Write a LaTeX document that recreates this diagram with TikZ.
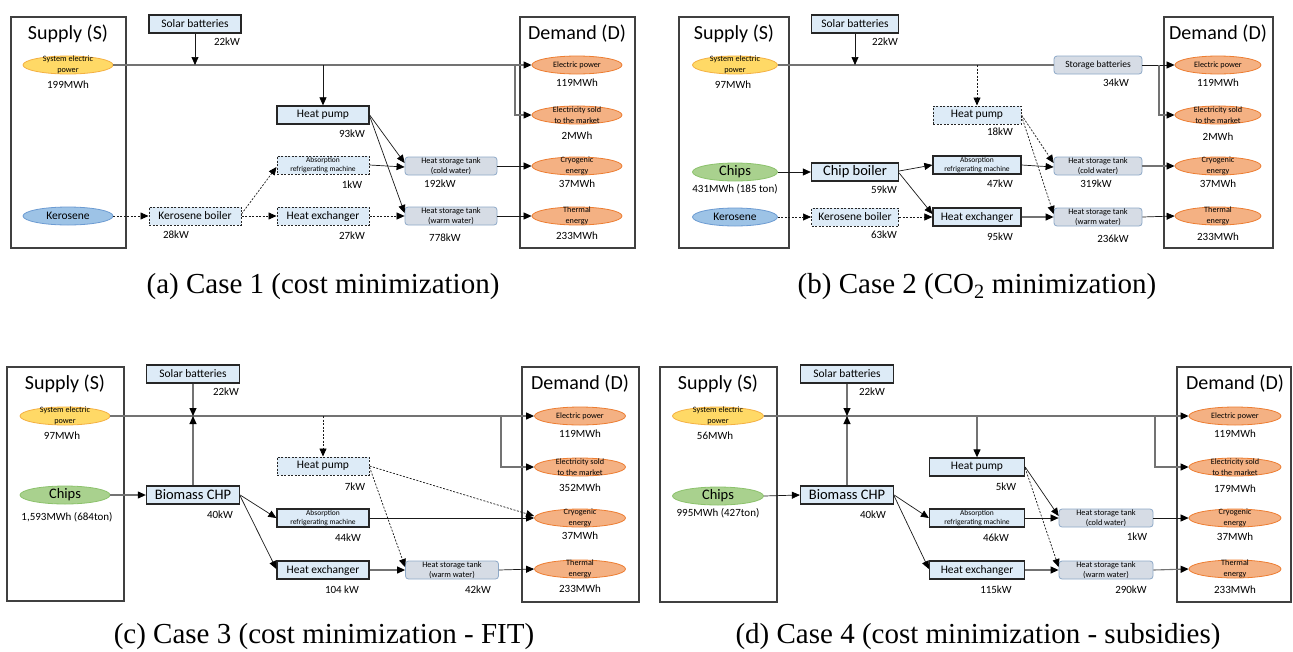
\documentclass[tikz,border=0pt]{standalone}
\usepackage{fontspec}
\setmainfont{Carlito}
\newfontfamily\capfont{Liberation Serif}
\usetikzlibrary{shapes.geometric,arrows.meta}
\definecolor{boxblue}{HTML}{DDEBF7}
\definecolor{tankfill}{HTML}{D6DCE5}
\definecolor{tankedge}{HTML}{8EA9C8}
\definecolor{supfill}{HTML}{FFD966}
\definecolor{supedge}{HTML}{F4B042}
\definecolor{kerfill}{HTML}{9DC3E6}
\definecolor{keredge}{HTML}{6C9BD2}
\definecolor{chipfill}{HTML}{A9D18E}
\definecolor{chipedge}{HTML}{8CC26C}
\definecolor{demfill}{HTML}{F4B183}
\definecolor{demedge}{HTML}{ED7D31}
\newcommand\fsz[2]{\fontsize{#1}{#2}\selectfont}
\begin{document}
\begin{tikzpicture}[x=1pt,y=-1pt,
 frame/.style={draw=black!75, line width=1.3pt, inner sep=0, minimum height=231pt},
 ttl/.style={font=\fsz{20}{24}, inner sep=0},
 val/.style={font=\fsz{11}{13}, inner sep=0},
 unit/.style={rectangle, draw=black!85, line width=1.3pt, fill=boxblue, inner sep=0, minimum height=18pt, font=\fsz{11.5}{13}, align=center},
 dunit/.style={unit, line width=1pt, dash pattern=on 2pt off 1.5pt},
 big/.style={font=\fsz{14.5}{16}},
 small/.style={font=\fsz{7.5}{9}},
 tank/.style={rectangle, rounded corners=3pt, draw=tankedge, line width=0.8pt, fill=tankfill, inner sep=0, minimum height=18pt, font=\fsz{8.3}{10}, align=center},
 ell/.style={ellipse, inner sep=0, minimum height=18pt, line width=0.8pt},
 etxt/.style={font=\fsz{8.2}{10.5}, align=center, inner sep=0},
 sup/.style={ell, fill=supfill, draw=supedge},
 ker/.style={ell, fill=kerfill, draw=keredge, font=\fsz{11.5}{13}},
 chip/.style={ell, fill=chipfill, draw=chipedge, font=\fsz{14.5}{16}},
 dem/.style={ell, fill=demfill, draw=demedge},
 conn/.style={draw=black!90, line width=0.7pt, -{Triangle[length=8pt,width=7pt,color=black]}},
 dconn/.style={conn, dash pattern=on 2pt off 1.5pt},
 mline/.style={draw=black!55, line width=1.1pt},
 mconn/.style={mline, -{Triangle[length=8pt,width=7pt,color=black]}},
 captxt/.style={font=\capfont\fsz{29}{33}, inner sep=0}
]
\useasboundingbox (0,0) rectangle (1293,651);
\fill[white] (0,0) rectangle (1293,651);

% ================= (a)
\node[frame, minimum width=115pt] (supA) at (68.5,132.5) {};
\node[frame, minimum width=115pt] (demA) at (577.5,132.5) {};
\node[ttl] (tsA) at (68,34) {Supply (S)};
\node[ttl] (tdA) at (577,34) {Demand (D)};
\node[sup, minimum width=90pt, label={[etxt]center:System electric\\power}] (sepA) at (68,65) {};
\node[val] (vsepA) at (68,85) {199MWh};
\node[ker, minimum width=90pt] (kerA) at (68,216) {Kerosene};
\node[unit, minimum width=92pt] (solA) at (195,24) {Solar batteries};
\node[val] (vsolA) at (227,42) {22kW};
\node[unit, minimum width=92pt] (hpA) at (323,115) {Heat pump};
\node[val] (vhpA) at (352,134) {93kW};
\node[dunit, small, minimum width=92pt] (absA) at (323,165) {Absorption\\refrigerating machine};
\node[val] (vabsA) at (352,185) {1kW};
\node[dunit, minimum width=92pt] (hxA) at (323,216) {Heat exchanger};
\node[val] (vhxA) at (352,236) {27kW};
\node[dunit, minimum width=92pt] (kbA) at (195,216) {Kerosene boiler};
\node[val] (vkbA) at (176,235) {28kW};
\node[tank, minimum width=92pt] (ctA) at (451,166) {Heat storage tank\\(cold water)};
\node[val] (vctA) at (440,184) {192kW};
\node[tank, minimum width=92pt] (wtA) at (451,216) {Heat storage tank\\(warm water)};
\node[val] (vwtA) at (445,238) {778kW};
\node[dem, minimum width=90pt, label={[etxt]center:Electric power}] (epA) at (577,65) {};
\node[dem, minimum width=90pt, label={[etxt]center:Electricity sold\\to the market}] (esA) at (577,115) {};
\node[dem, minimum width=90pt, label={[etxt]center:Cryogenic\\energy}] (crA) at (577,166) {};
\node[dem, minimum width=90pt, label={[etxt]center:Thermal\\energy}] (thA) at (577,216) {};
\node[val] (vepA) at (577,83) {119MWh};
\node[val] (vesA) at (577,136) {2MWh};
\node[val] (vcrA) at (577,184) {37MWh};
\node[val] (vthA) at (577,236) {233MWh};
\coordinate (brA) at (515,65);
\coordinate (hpdA) at (323,65);
\draw[mconn] (sepA.east) -- (epA.west);
\draw[mconn] (brA) |- (esA.west);
\draw[conn] (solA.south) -- (solA.south |- sepA.east);
\draw[conn] (hpdA) -- (hpA.north);
\draw[dconn] (kerA.east) -- (kbA.west);
\draw[dconn] (kbA.east) -- (hxA.west);
\draw[dconn] ([yshift=2pt]kbA.east) -- ([yshift=-2pt]absA.west);
\draw[conn] (hpA.east) -- ([yshift=3pt]ctA.west);
\draw[conn] ([yshift=-1pt]hpA.east) -- ([yshift=3pt]wtA.west);
\draw[conn] (absA.east) -- ([yshift=-1pt]ctA.west);
\draw[dconn] (hxA.east) -- (wtA.west);
\draw[conn] (ctA.east) -- (crA.west);
\draw[conn] (wtA.east) -- (thA.west);
\node[captxt] (capA) at (323,287) {(a) Case 1 (cost minimization)};

% ================= (b)
\node[frame, minimum width=110pt] (supB) at (734,132.5) {};
\node[frame, minimum width=109pt] (demB) at (1218.5,132.5) {};
\node[ttl] (tsB) at (734,34) {Supply (S)};
\node[ttl] (tdB) at (1218,34) {Demand (D)};
\node[sup, minimum width=85pt, label={[etxt]center:System electric\\power}] (sepB) at (735,65) {};
\node[val] (vsepB) at (733,85) {97MWh};
\node[chip, minimum width=85pt] (chB) at (735,172) {Chips};
\node[val] (vchB) at (735,189) {431MWh (185 ton)};
\node[ker, minimum width=85pt] (kerB) at (735,217) {Kerosene};
\node[unit, minimum width=87pt] (solB) at (855,24) {Solar batteries};
\node[val] (vsolB) at (885,42) {22kW};
\node[tank, font=\fsz{9.5}{11}, minimum width=88pt] (sbB) at (1098,65) {Storage batteries};
\node[val] (vsbB) at (1116,83) {34kW};
\node[dunit, minimum width=88pt] (hpB) at (977,115) {Heat pump};
\node[val] (vhpB) at (1000,132) {18kW};
\node[unit, big, minimum width=87pt] (cbB) at (855,172) {Chip boiler};
\node[val] (vcbB) at (884,190) {59kW};
\node[dunit, minimum width=87pt] (kbB) at (855,217) {Kerosene boiler};
\node[val] (vkbB) at (884,235) {63kW};
\node[unit, small, minimum width=88pt] (absB) at (977,165) {Absorption\\refrigerating machine};
\node[val] (vabsB) at (1000,184) {47kW};
\node[unit, minimum width=88pt] (hxB) at (977,217) {Heat exchanger};
\node[val] (vhxB) at (1000,237) {95kW};
\node[tank, minimum width=88pt] (ctB) at (1098,166) {Heat storage tank\\(cold water)};
\node[val] (vctB) at (1096,184) {319kW};
\node[tank, minimum width=88pt] (wtB) at (1098,217) {Heat storage tank\\(warm water)};
\node[val] (vwtB) at (1113,239) {236kW};
\node[dem, minimum width=86pt, label={[etxt]center:Electric power}] (epB) at (1218,65) {};
\node[dem, minimum width=86pt, label={[etxt]center:Electricity sold\\to the market}] (esB) at (1218,115) {};
\node[dem, minimum width=86pt, label={[etxt]center:Cryogenic\\energy}] (crB) at (1218,166) {};
\node[dem, minimum width=86pt, label={[etxt]center:Thermal\\energy}] (thB) at (1218,216) {};
\node[val] (vepB) at (1218,83) {119MWh};
\node[val] (vesB) at (1218,137) {2MWh};
\node[val] (vcrB) at (1218,184) {37MWh};
\node[val] (vthB) at (1218,237) {233MWh};
\coordinate (brB) at (1159,65);
\coordinate (hpdB) at (977,65);
\draw[mline] (sepB.east) -- (sbB.west);
\draw[conn] (sbB.east) -- (epB.west);
\draw[mconn] (brB) |- (esB.west);
\draw[conn] (solB.south) -- (solB.south |- sepB.east);
\draw[dconn] (hpdB) -- (hpB.north);
\draw[conn] (chB.east) -- (cbB.west);
\draw[dconn] (kerB.east) -- (kbB.west);
\draw[conn] ([yshift=1pt]cbB.east) -- (absB.west);
\draw[conn] ([yshift=-1pt]cbB.east) -- ([yshift=3pt]hxB.west);
\draw[dconn] (kbB.east) -- (hxB.west);
\draw[dconn] (hpB.east) -- ([yshift=3pt]ctB.west);
\draw[dconn] ([yshift=-1pt]hpB.east) -- ([yshift=3pt]wtB.west);
\draw[conn] (absB.east) -- ([yshift=-1pt]ctB.west);
\draw[mconn] (hxB.east) -- (wtB.west);
\draw[mconn] (ctB.east) -- (crB.west);
\draw[conn] (wtB.east) -- (thB.west);
\node[captxt] (capB) at (977,287) {(b) Case 2 (CO\textsubscript{2} minimization)};

% ================= (c)
\node[frame, minimum width=117pt, minimum height=234pt] (supC) at (65.5,484) {};
\node[frame, minimum width=117pt, minimum height=235pt] (demC) at (580.5,484.5) {};
\node[ttl] (tsC) at (65,384) {Supply (S)};
\node[ttl] (tdC) at (580,384) {Demand (D)};
\node[sup, minimum width=90pt, label={[etxt]center:System electric\\power}] (sepC) at (65,416) {};
\node[val] (vsepC) at (62,436) {97MWh};
\node[chip, minimum width=90pt] (chC) at (65,495) {Chips};
\node[val] (vchC) at (67,517) {1,593MWh (684ton)};
\node[unit, minimum width=93pt] (solC) at (193,374) {Solar batteries};
\node[val] (vsolC) at (226,392) {22kW};
\node[unit, big, minimum width=93pt] (chpC) at (193,495) {Biomass CHP};
\node[val] (vchpC) at (220,515) {40kW};
\node[dunit, minimum width=92pt] (hpC) at (323,466) {Heat pump};
\node[val] (vhpC) at (355,487) {7kW};
\node[unit, small, minimum width=92pt] (absC) at (323,518) {Absorption\\refrigerating machine};
\node[val] (vabsC) at (348,538) {44kW};
\node[unit, minimum width=92pt] (hxC) at (323,570) {Heat exchanger};
\node[val] (vhxC) at (342,590) {104 kW};
\node[tank, minimum width=93pt] (wtC) at (452,570) {Heat storage tank\\(warm water)};
\node[val] (vwtC) at (478,590) {42kW};
\node[dem, minimum width=91pt, label={[etxt]center:Electric power}] (epC) at (580,416) {};
\node[dem, minimum width=91pt, label={[etxt]center:Electricity sold\\to the market}] (esC) at (580,467) {};
\node[dem, minimum width=91pt, label={[etxt]center:Cryogenic\\energy}] (crC) at (580,518) {};
\node[dem, minimum width=91pt, label={[etxt]center:Thermal\\energy}] (thC) at (580,569) {};
\node[val] (vepC) at (580,434) {119MWh};
\node[val] (vesC) at (580,488) {352MWh};
\node[val] (vcrC) at (580,536) {37MWh};
\node[val] (vthC) at (580,589) {233MWh};
\coordinate (brC) at (501,416);
\coordinate (hpdC) at (323,416);
\draw[mconn] (sepC.east) -- (epC.west);
\draw[mconn] (brC) |- (esC.west);
\draw[mconn] (solC.south) -- (solC.south |- sepC.east);
\draw[mconn] (chpC.north) -- (chpC.north |- sepC.east);
\draw[dconn] (hpdC) -- (hpC.north);
\draw[mconn] (chC.east) -- (chpC.west);
\draw[conn] (chpC.east) -- (absC.west);
\draw[conn] ([yshift=-1pt]chpC.east) -- ([yshift=1pt]hxC.west);
\draw[dconn] (hpC.east) -- ([yshift=2pt]crC.west);
\draw[dconn] ([yshift=-1pt]hpC.east) -- ([yshift=3pt]wtC.west);
\draw[conn] (absC.east) -- (crC.west);
\draw[mconn] (hxC.east) -- (wtC.west);
\draw[conn] (wtC.east) -- (thC.west);
\node[captxt] (capC) at (324,637) {(c) Case 3 (cost minimization - FIT)};

% ================= (d)
\node[frame, minimum width=117pt, minimum height=235pt] (supD) at (718.5,484.5) {};
\node[frame, minimum width=114pt, minimum height=235pt] (demD) at (1234,484.5) {};
\node[ttl] (tsD) at (718,384) {Supply (S)};
\node[ttl] (tdD) at (1235,384) {Demand (D)};
\node[sup, minimum width=91pt, label={[etxt]center:System electric\\power}] (sepD) at (718,416) {};
\node[val] (vsepD) at (715,436) {56MWh};
\node[chip, minimum width=91pt] (chD) at (718,496) {Chips};
\node[val] (vchD) at (718,513) {995MWh (427ton)};
\node[unit, minimum width=93pt] (solD) at (847,374) {Solar batteries};
\node[val] (vsolD) at (872,392) {22kW};
\node[unit, big, minimum width=93pt] (chpD) at (847,495) {Biomass CHP};
\node[val] (vchpD) at (873,515) {40kW};
\node[unit, minimum width=95pt] (hpD) at (977,467) {Heat pump};
\node[val] (vhpD) at (1006,487) {5kW};
\node[unit, small, minimum width=95pt] (absD) at (977,518) {Absorption\\refrigerating machine};
\node[val] (vabsD) at (996,538) {46kW};
\node[unit, minimum width=95pt] (hxD) at (977,570) {Heat exchanger};
\node[val] (vhxD) at (996,590) {115kW};
\node[tank, minimum width=94pt] (ctD) at (1106,518) {Heat storage tank\\(cold water)};
\node[val] (vctD) at (1137,537) {1kW};
\node[tank, minimum width=94pt] (wtD) at (1106,570) {Heat storage tank\\(warm water)};
\node[val] (vwtD) at (1131,590) {290kW};
\node[dem, minimum width=92pt, label={[etxt]center:Electric power}] (epD) at (1235,416) {};
\node[dem, minimum width=92pt, label={[etxt]center:Electricity sold\\to the market}] (esD) at (1235,467) {};
\node[dem, minimum width=92pt, label={[etxt]center:Cryogenic\\energy}] (crD) at (1235,518) {};
\node[dem, minimum width=92pt, label={[etxt]center:Thermal\\energy}] (thD) at (1235,569) {};
\node[val] (vepD) at (1235,434) {119MWh};
\node[val] (vesD) at (1235,489) {179MWh};
\node[val] (vcrD) at (1235,537) {37MWh};
\node[val] (vthD) at (1235,590) {233MWh};
\coordinate (brD) at (1155,416);
\coordinate (hpdD) at (977,416);
\draw[mconn] (sepD.east) -- (epD.west);
\draw[mconn] (brD) |- (esD.west);
\draw[mconn] (solD.south) -- (solD.south |- sepD.east);
\draw[mconn] (chpD.north) -- (chpD.north |- sepD.east);
\draw[mconn] (hpdD) -- (hpD.north);
\draw[conn] (chD.east) -- (chpD.west);
\draw[conn] (chpD.east) -- (absD.west);
\draw[conn] ([yshift=-1pt]chpD.east) -- ([yshift=1pt]hxD.west);
\draw[conn] (hpD.east) -- ([yshift=2pt]ctD.west);
\draw[dconn] ([yshift=-1pt]hpD.east) -- ([yshift=3pt]wtD.west);
\draw[conn] (absD.east) -- (ctD.west);
\draw[mconn] (hxD.east) -- (wtD.west);
\draw[conn] (ctD.east) -- (crD.west);
\draw[mconn] (wtD.east) -- (thD.west);
\node[captxt] (capD) at (978,637) {(d) Case 4 (cost minimization - subsidies)};
\end{tikzpicture}
\end{document}
